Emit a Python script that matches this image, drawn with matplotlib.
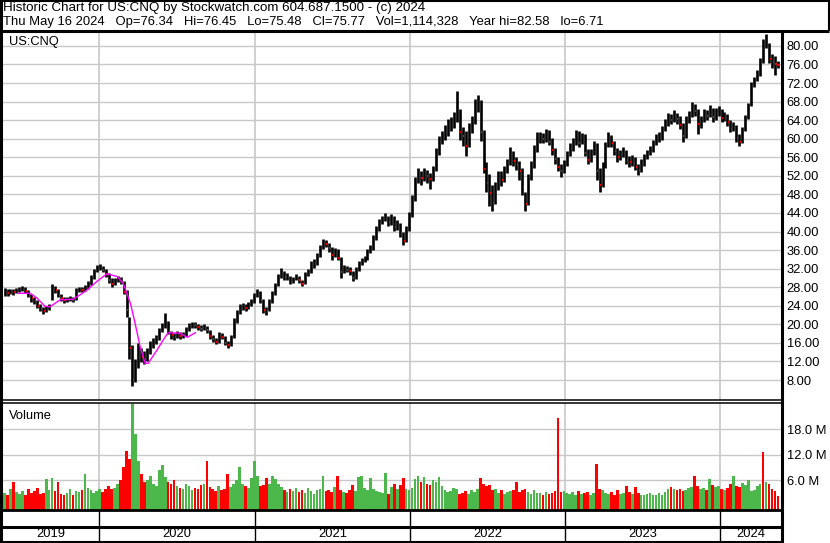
import matplotlib

matplotlib.use("Agg")
import matplotlib.dates as mdates
import matplotlib.pyplot as plt
import numpy as np
import pandas as pd

plt.rcParams["font.family"] = ["Liberation Sans", "DejaVu Sans"]

# weekly bars, last week ends Thu May 16 2024
wk_close = [
    27.0, 26.8, 27.2, 27.0, 27.4, 27.6, 27.9, 27.2, 26.2, 25.6,
    25.0, 24.0, 23.4, 22.9, 23.2, 23.9, 27.8, 27.3, 26.4, 25.6,
    25.2, 25.4, 25.6, 25.3, 27.3, 27.6, 27.5, 27.8, 28.6, 30.0,
    31.4, 32.2, 32.5, 31.8, 30.8, 29.6, 28.6, 29.4, 29.9, 29.2,
    27.0, 23.0, 15.0, 8.0, 11.0, 14.0, 13.0, 12.5, 14.0, 15.5,
    16.0, 16.8, 18.5, 19.5, 21.2, 18.5, 17.6, 17.2, 17.8, 17.4,
    17.6, 18.8, 19.8, 20.0, 19.8, 19.4, 19.1, 19.5, 18.7, 17.4,
    16.8, 16.2, 17.8, 17.2, 16.0, 15.6, 17.0, 20.8, 22.6, 23.6,
    24.0, 23.6, 24.2, 24.8, 26.2, 27.0, 25.2, 23.2, 22.9, 24.8,
    26.6, 28.4, 30.2, 31.4, 30.2, 30.4, 29.2, 29.7, 30.3, 29.5,
    28.8, 30.6, 31.3, 32.6, 33.0, 34.8, 36.5, 37.8, 37.3, 36.4,
    35.0, 35.8, 34.4, 31.2, 32.0, 31.8, 31.4, 30.0, 31.8, 33.0,
    33.5, 34.2, 35.6, 36.4, 38.6, 40.5, 42.0, 42.8, 43.2, 42.0,
    43.0, 41.0, 41.5, 39.5, 38.0, 40.5, 43.5, 47.0, 51.0, 52.5,
    51.5, 52.6, 52.0, 51.4, 53.2, 57.0, 59.6, 60.4, 61.8, 62.6,
    63.0, 64.5, 66.0, 61.5, 60.5, 58.5, 62.0, 63.5, 67.0, 67.8,
    61.5, 53.5, 50.5, 48.2, 46.2, 49.6, 52.2, 51.2, 53.0, 54.6,
    56.5, 55.2, 54.4, 53.0, 49.5, 46.0, 51.5, 54.2, 57.6, 60.0,
    60.4, 60.0, 61.0, 59.4, 57.6, 55.6, 54.0, 53.0, 54.6, 56.6,
    58.0, 59.0, 60.6, 59.0, 60.2, 57.0, 55.4, 57.0, 58.6, 53.0,
    50.0, 54.2, 58.6, 60.2, 59.0, 57.4, 56.0, 56.6, 57.0, 55.4,
    55.0, 55.6, 54.0, 53.2, 54.6, 56.0, 56.8, 57.6, 59.0, 60.0,
    60.2, 62.0, 63.4, 64.4, 64.0, 65.0, 64.2, 63.0, 60.6, 64.0,
    65.0, 66.2, 66.0, 63.2, 64.0, 65.6, 65.0, 66.2, 64.6, 65.6,
    66.0, 64.4, 65.0, 63.6, 62.0, 62.6, 60.2, 59.4, 62.0, 64.6,
    67.2, 71.6, 72.6, 74.0, 76.6, 80.2, 80.8, 77.2, 76.6, 76.2, 75.8,
]
wk_high = [
    27.8, 27.6, 27.7, 27.6, 27.9, 28.0, 28.3, 28.1, 27.4, 26.5,
    25.9, 25.2, 24.4, 23.8, 23.9, 24.4, 28.8, 28.3, 27.6, 26.6,
    25.9, 26.0, 26.2, 26.0, 27.8, 28.1, 28.0, 28.4, 29.3, 30.7,
    32.0, 32.8, 33.0, 32.6, 32.0, 31.0, 29.9, 30.0, 30.5, 30.2,
    29.4, 27.4, 21.5, 15.5, 12.5, 16.0, 14.8, 14.2, 15.0, 16.4,
    17.0, 17.6, 19.3, 20.4, 22.4, 20.8, 18.6, 18.2, 18.6, 18.3,
    18.3, 19.4, 20.4, 20.6, 20.5, 20.1, 19.8, 20.1, 19.6, 18.8,
    17.6, 17.1, 18.3, 18.2, 17.4, 16.4, 17.6, 21.4, 23.2, 24.4,
    24.7, 24.4, 24.8, 25.4, 26.8, 27.6, 27.2, 25.4, 23.8, 25.4,
    27.2, 29.0, 30.8, 32.2, 31.6, 31.0, 30.5, 30.3, 30.9, 30.5,
    29.6, 31.2, 32.0, 33.6, 34.0, 35.4, 37.0, 38.3, 38.1, 37.5,
    36.6, 36.5, 36.2, 34.6, 32.7, 32.6, 32.3, 31.6, 32.4, 33.7,
    34.3, 34.8, 36.2, 37.2, 39.2, 41.2, 42.6, 43.4, 43.9, 43.4,
    43.8, 43.4, 42.4, 41.8, 39.8, 41.2, 44.2, 47.8, 51.8, 53.6,
    53.0, 53.6, 53.2, 52.7, 54.2, 58.0, 60.6, 61.6, 63.0, 64.2,
    64.6, 65.8, 70.3, 66.4, 62.6, 61.6, 63.4, 64.8, 68.6, 69.4,
    68.4, 61.8, 55.0, 52.4, 50.0, 50.6, 53.0, 53.0, 54.2, 55.6,
    58.2, 57.4, 56.0, 55.2, 53.8, 48.6, 52.4, 55.2, 58.6, 61.4,
    61.4, 61.2, 62.2, 61.8, 60.2, 58.0, 56.0, 54.6, 55.4, 57.4,
    59.0, 60.2, 61.8, 61.6, 61.2, 61.0, 57.8, 57.8, 59.6, 59.0,
    53.6, 55.0, 59.4, 61.4, 60.8, 59.6, 58.0, 57.6, 58.2, 57.6,
    56.2, 56.6, 56.0, 54.6, 55.6, 56.8, 57.6, 58.4, 59.8, 61.0,
    61.4, 62.8, 64.2, 65.6, 65.4, 66.2, 65.6, 64.8, 63.4, 64.8,
    66.0, 67.9, 67.4, 66.4, 64.8, 66.4, 66.2, 67.2, 66.6, 66.6,
    67.0, 66.4, 65.8, 65.4, 64.0, 63.6, 63.0, 61.0, 62.6, 65.2,
    67.8, 72.2, 73.4, 74.8, 77.4, 81.4, 82.58, 80.6, 78.2, 77.8, 76.8,
]
wk_low = [
    26.2, 26.1, 26.5, 26.4, 26.8, 27.0, 27.2, 26.7, 25.8, 24.9,
    24.4, 23.5, 22.8, 22.3, 22.6, 23.0, 25.3, 26.7, 25.8, 25.0,
    24.6, 24.8, 25.0, 24.8, 25.3, 26.9, 26.9, 27.2, 27.7, 28.4,
    29.8, 31.2, 31.8, 31.2, 30.2, 29.0, 28.0, 28.5, 29.2, 28.6,
    26.5, 21.5, 12.5, 6.71, 7.6, 10.6, 11.8, 11.5, 12.2, 13.6,
    15.0, 15.8, 16.6, 18.4, 19.2, 18.0, 16.9, 16.6, 17.0, 16.8,
    17.0, 17.4, 18.6, 19.3, 19.2, 18.8, 18.5, 18.8, 18.1, 16.9,
    16.2, 15.8, 16.0, 16.8, 15.6, 14.9, 15.4, 17.0, 20.4, 22.2,
    23.2, 22.9, 23.4, 24.0, 24.6, 25.9, 24.6, 22.5, 22.0, 22.8,
    24.6, 26.4, 28.2, 30.0, 29.6, 29.6, 28.7, 29.0, 29.5, 28.9,
    28.2, 28.6, 30.5, 31.1, 32.1, 32.8, 34.6, 36.3, 36.7, 35.6,
    33.8, 34.6, 33.8, 30.0, 31.0, 31.2, 30.6, 29.3, 29.8, 31.4,
    32.7, 33.4, 33.9, 35.3, 36.0, 38.2, 40.2, 41.6, 42.2, 41.2,
    41.4, 40.2, 40.3, 38.8, 37.2, 37.8, 40.2, 43.2, 46.5, 50.4,
    50.0, 50.8, 50.4, 49.2, 50.8, 53.0, 56.6, 58.8, 59.8, 60.6,
    61.6, 62.4, 63.6, 59.8, 58.4, 56.2, 58.2, 61.2, 63.2, 65.8,
    59.5, 52.6, 48.6, 45.6, 44.4, 46.0, 49.0, 49.8, 50.6, 52.6,
    54.4, 54.2, 53.2, 51.2, 47.8, 44.4, 45.8, 51.0, 53.8, 57.2,
    59.0, 59.0, 59.4, 58.6, 56.6, 54.6, 53.0, 51.8, 52.6, 54.2,
    56.2, 57.4, 58.6, 58.2, 58.8, 56.2, 54.6, 55.0, 56.6, 51.2,
    48.6, 49.6, 53.8, 58.2, 58.2, 56.6, 55.0, 55.4, 56.0, 54.6,
    54.0, 54.2, 53.2, 52.2, 52.8, 54.2, 55.6, 56.4, 57.2, 58.6,
    59.2, 59.8, 61.6, 62.8, 63.2, 63.6, 63.2, 62.0, 59.2, 60.2,
    63.4, 64.6, 64.8, 61.0, 62.4, 63.6, 64.0, 64.6, 63.6, 64.0,
    64.8, 63.6, 63.8, 62.8, 61.4, 61.6, 59.4, 58.4, 59.0, 61.6,
    64.2, 67.0, 71.2, 72.4, 73.6, 76.4, 79.6, 76.4, 75.2, 73.8, 75.2,
]
# volume, millions of shares
wk_vol = [
    3.0, 2.5, 4.0, 5.5, 3.2, 2.8, 3.5, 2.6, 3.8, 3.0,
    3.4, 4.2, 2.8, 3.0, 6.2, 3.6, 6.4, 3.4, 5.6, 2.8,
    2.6, 3.0, 3.8, 2.5, 3.4, 3.2, 3.6, 7.4, 4.2, 3.6,
    3.0, 3.4, 4.0, 3.2, 3.8, 4.6, 3.8, 4.2, 5.0, 6.0,
    9.0, 13.0, 11.0, 24.0, 17.0, 10.5, 7.5, 5.5, 6.0, 7.0,
    5.0, 4.5, 8.5, 9.5, 6.8, 5.5, 5.0, 6.0, 4.5, 4.2,
    3.8, 5.0, 4.6, 3.6, 4.2, 4.0, 4.8, 5.2, 10.5, 4.4,
    3.8, 3.5, 4.6, 3.6, 4.0, 7.4, 4.4, 5.0, 6.0, 9.2,
    5.2, 4.6, 4.2, 6.5, 10.5, 7.0, 4.5, 4.8, 6.4, 5.0,
    7.0, 6.2, 5.0, 4.4, 3.6, 3.2, 4.0, 3.4, 4.2, 3.2,
    3.6, 3.0, 4.2, 3.4, 2.8, 3.6, 4.0, 7.0, 3.4, 3.6,
    3.2, 4.4, 7.0, 3.6, 3.2, 3.0, 3.6, 4.8, 3.4, 6.8,
    7.0, 4.2, 3.6, 6.4, 3.8, 3.4, 3.2, 3.0, 7.6, 2.8,
    4.4, 5.2, 4.0, 4.8, 6.4, 4.0, 3.6, 4.2, 6.2, 7.0,
    5.6, 6.8, 5.2, 4.8, 6.0, 5.6, 6.8, 4.6, 3.6, 3.2,
    3.4, 4.2, 3.8, 2.8, 3.0, 3.4, 2.8, 3.6, 3.2, 3.8,
    6.6, 5.0, 4.6, 4.8, 3.6, 4.0, 3.0, 3.6, 2.8, 3.2,
    3.4, 3.6, 5.6, 3.2, 3.6, 4.0, 3.2, 2.8, 3.6, 3.0,
    3.0, 2.6, 3.2, 2.8, 3.0, 3.4, 20.7, 3.2, 3.4, 3.0,
    2.8, 3.2, 2.6, 3.4, 2.8, 3.0, 3.2, 2.6, 3.0, 9.8,
    3.8, 3.6, 3.0, 2.8, 3.2, 2.4, 3.6, 2.8, 3.0, 4.6,
    3.2, 2.8, 4.4, 3.0, 2.4, 2.6, 2.8, 3.0, 2.6, 2.4,
    3.0, 2.6, 3.2, 4.0, 4.4, 4.0, 3.6, 3.8, 3.4, 3.6,
    4.2, 4.4, 7.0, 4.6, 4.0, 4.2, 3.6, 6.2, 4.8, 4.4,
    4.6, 3.8, 3.6, 4.2, 5.0, 7.0, 4.6, 4.4, 5.4, 4.8,
    6.0, 3.4, 3.6, 4.6, 5.0, 12.7, 5.6, 5.0, 3.8, 3.4, 2.2,
]
# spike bars whose colour in the chart differs from the weekly direction
vol_fix_weeks = [43, 255]
vol_fix_up = [True, False]

# moving average (only drawn through mid 2020)
ma_dates = [
    "2019-06-23", "2019-07-22", "2019-08-07", "2019-08-26", "2019-09-07",
    "2019-10-01", "2019-10-31", "2019-11-29", "2019-12-27", "2020-01-19",
    "2020-02-12", "2020-02-26", "2020-03-14", "2020-03-25", "2020-04-06",
    "2020-04-18", "2020-04-25", "2020-05-16", "2020-05-30", "2020-06-11",
    "2020-07-09", "2020-07-26", "2020-08-14",
]
ma_vals = [
    26.7, 26.7, 25.7, 23.9, 23.8, 25.3, 25.4, 27.1, 29.3, 30.9,
    30.3, 28.9, 24.6, 20.3, 15.2, 11.6, 11.6, 14.5, 16.6, 18.2,
    18.1, 17.2, 18.2,
]

years = [2019, 2020, 2021, 2022, 2023, 2024]
price_ticks = list(range(8, 84, 4))
vol_ticks = [6, 12, 18]

header1 = "Historic Chart for US:CNQ by Stockwatch.com 604.687.1500 - (c) 2024"
header2 = ("Thu May 16 2024   Op=76.34   Hi=76.45   Lo=75.48   Cl=75.77   "
           "Vol=1,114,328   Year hi=82.58   lo=6.71")

W, H = 830, 543
GRID = "#c8c8c8"
RED = "#ff0000"
GREEN = "#4cb84c"


def box(x0, y0, x1, y1):
    return [x0 / W, 1 - y1 / H, (x1 - x0) / W, (y1 - y0) / H]


dates = pd.date_range(end="2024-05-16", periods=len(wk_close), freq="7D")
d = mdates.date2num(dates.to_pydatetime())
close = np.array(wk_close)
prev = np.concatenate([[close[0]], close[:-1]])
down = close < prev
vol_down = down.copy()
for i, up in zip(vol_fix_weeks, vol_fix_up):
    vol_down[i] = not up

x0 = mdates.date2num(pd.Timestamp("2019-05-17"))
x1 = mdates.date2num(pd.Timestamp("2024-05-23"))
year_x = [mdates.date2num(pd.Timestamp(f"{y}-01-01")) for y in years[1:]]

fig = plt.figure(figsize=(W / 100, H / 100), dpi=100)

# price panel
ax = fig.add_axes(box(2, 32, 781, 400))
ax.set_xlim(x0, x1)
ax.set_ylim(3.7, 83.0)
for v in price_ticks:
    ax.axhline(v, color=GRID, lw=1.0, zorder=0)
for xv in year_x:
    ax.axvline(xv, color=GRID, lw=1.2, zorder=0)
ax.vlines(d, wk_low, wk_high, color="black", lw=1.9, zorder=2)
ax.hlines(close[down], d[down] + 1.0, d[down] + 3.5, color=RED, lw=1.4, zorder=3)
ax.plot(mdates.date2num(pd.to_datetime(ma_dates).to_pydatetime()), ma_vals,
        color="#ff00ff", lw=1.0, zorder=4)
ax.set_xticks([])
ax.yaxis.tick_right()
ax.set_yticks(price_ticks)
ax.set_yticklabels([f"{v:.2f}" for v in price_ticks])
ax.tick_params(axis="y", length=0, pad=4, labelsize=9.3, labelcolor="black")
for s in ax.spines.values():
    s.set_visible(False)
ax.text(0.009, 0.988, "US:CNQ", transform=ax.transAxes, ha="left", va="top",
        fontsize=9.3)

# volume panel
av = fig.add_axes(box(2, 402.5, 781, 510))
av.set_xlim(x0, x1)
vmin = -1.06
av.set_ylim(vmin, 24.35)
for v in vol_ticks:
    av.axhline(v, color=GRID, lw=1.0, zorder=0)
for xv in year_x:
    av.axvline(xv, color=GRID, lw=1.2, zorder=0)
vol = np.array(wk_vol)
av.bar(d, vol - vmin, bottom=vmin, width=6.2,
       color=[RED if k else GREEN for k in vol_down], linewidth=0, zorder=2)
av.set_xticks([])
av.yaxis.tick_right()
av.set_yticks(vol_ticks)
av.set_yticklabels([f"{v:.1f} M" for v in vol_ticks])
av.tick_params(axis="y", length=0, pad=4, labelsize=9.3, labelcolor="black")
for s in av.spines.values():
    s.set_visible(False)
av.text(0.009, 0.93, "Volume", transform=av.transAxes, ha="left", va="top",
        fontsize=9.3)

# year strip
ay = fig.add_axes(box(2, 510, 781, 542))
ay.set_xlim(x0, x1)
ay.set_ylim(0, 1)
ay.axis("off")
bounds = [x0] + year_x + [x1]
for xv in year_x:
    ay.axvline(xv, color="black", lw=1.0)
for y, a, b in zip(years, bounds[:-1], bounds[1:]):
    ay.text((a + b) / 2, 0.24, str(y), ha="center", va="center", fontsize=9.3)

# frame and header in pixel space
ov = fig.add_axes([0, 0, 1, 1])
ov.set_xlim(0, W)
ov.set_ylim(H, 0)
ov.axis("off")
k = dict(color="black", solid_capstyle="butt")
ov.plot([0, 829], [1, 1], lw=1.5, **k)
ov.plot([828.5, 828.5], [0, 31], lw=1.5, **k)
ov.plot([1, 1], [0, 543], lw=2.2, **k)
ov.plot([0, 829], [31, 31], lw=2.2, **k)
ov.plot([781.5, 781.5], [31, 543], lw=2.2, **k)
ov.plot([0, 781], [400, 400], lw=1.1, **k)
ov.plot([0, 781], [402.5, 402.5], lw=1.1, **k)
ov.plot([0, 781], [510, 510], lw=2.0, **k)
ov.plot([0, 781], [526.5, 526.5], lw=2.2, **k)
ov.plot([0, 781], [541.5, 541.5], lw=2.2, **k)
ov.text(3, 8.5, header1, ha="left", va="center", fontsize=9.65)
ov.text(3, 21.5, header2, ha="left", va="center", fontsize=9.4)

fig.savefig("out.png", dpi=100)
plt.close(fig)
